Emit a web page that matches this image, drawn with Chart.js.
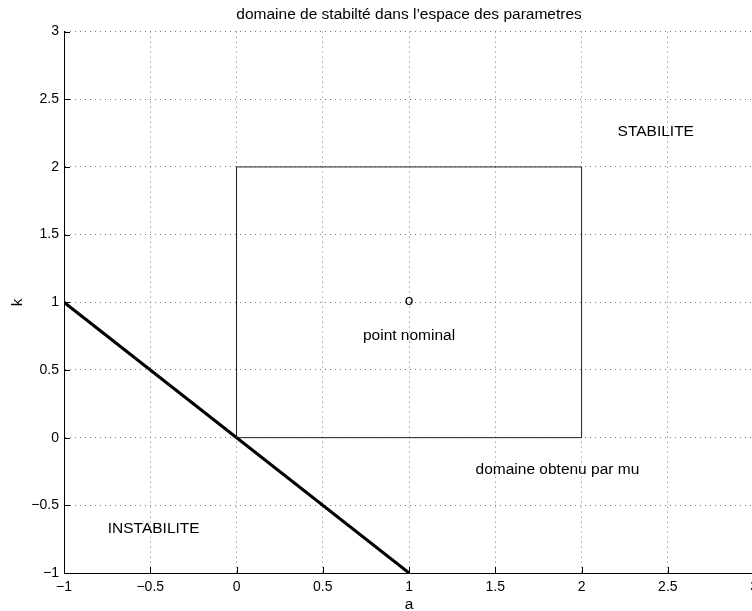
<!DOCTYPE html>
<html>
<head>
<meta charset="utf-8">
<script src="https://cdn.jsdelivr.net/npm/chart.js@4"></script>
<style>
  html, body { margin: 0; padding: 0; background: #fff; overflow: hidden; }
  canvas { display: block; }
</style>
</head>
<body>
<canvas id="myChart" width="764" height="614"></canvas>
<script>
// data of the plot
var boxX = [0, 2, 2, 0, 0];
var boxY = [0, 0, 2, 2, 0];
var limitX = [-1, 1];
var limitY = [1, -1];
var tickValues = [-1, -0.5, 0, 0.5, 1, 1.5, 2, 2.5, 3];

// text labels placed in data coordinates
var noteTexts = ["STABILITE", "o", "point nominal", "domaine obtenu par mu", "INSTABILITE"];
var noteX = [2.43, 1, 1, 1.86, -0.48];
var noteY = [2.26, 1.01, 0.75, -0.24, -0.67];

function toPoints(xs, ys) {
  return xs.map(function (x, i) { return { x: x, y: ys[i] }; });
}

function fmt(v) {
  return String(v).replace('-', '\u2212');
}

var FONT = "'Liberation Sans', Arial, Helvetica, sans-serif";

// draw the text notes and inward ticks like matlab
var extras = {
  id: 'extras',
  afterDatasetsDraw: function (chart) {
    var c = chart.ctx;
    var xs = chart.scales.x, ys = chart.scales.y;
    var area = chart.chartArea;
    c.save();
    c.strokeStyle = '#000';
    c.lineWidth = 1;
    c.beginPath();
    tickValues.forEach(function (v) {
      var px = Math.round(xs.getPixelForValue(v)) + 0.5;
      c.moveTo(px, area.bottom);
      c.lineTo(px, area.bottom - 6);
      var py = Math.round(ys.getPixelForValue(v)) + 0.5;
      c.moveTo(area.left, py);
      c.lineTo(area.left + 6, py);
    });
    c.stroke();

    c.fillStyle = '#000';
    c.font = '15.5px ' + FONT;
    c.textAlign = 'center';
    c.textBaseline = 'middle';
    noteTexts.forEach(function (t, i) {
      c.fillText(t, xs.getPixelForValue(noteX[i]), ys.getPixelForValue(noteY[i]));
    });
    c.restore();
  }
};

var ctx = document.getElementById('myChart').getContext('2d');

var myChart = new Chart(ctx, {
  type: 'scatter',
  data: {
    datasets: [{
      data: toPoints(boxX, boxY),
      showLine: true,
      borderColor: '#222',
      borderWidth: 1,
      pointRadius: 0,
      tension: 0
    }, {
      data: toPoints(limitX, limitY),
      showLine: true,
      borderColor: '#000',
      borderWidth: 3,
      pointRadius: 0,
      tension: 0
    }]
  },
  options: {
    responsive: false,
    animation: false,
    layout: { padding: 0 },
    plugins: {
      legend: { display: false },
      tooltip: { enabled: false },
      title: {
        display: true,
        fullSize: false,
        text: "domaine de stabilté dans l\u2019espace des parametres",
        color: '#000',
        font: { family: FONT, size: 15.5, weight: 'normal', lineHeight: 1.2 },
        padding: { top: 5, bottom: 8 }
      }
    },
    scales: {
      x: {
        type: 'linear',
        min: -1,
        max: 3,
        afterBuildTicks: function (s) {
          s.ticks = tickValues.map(function (v) { return { value: v }; });
        },
        afterFit: function (s) { s.height = 41; },
        ticks: {
          color: '#000',
          padding: 6,
          maxRotation: 0,
          font: { family: FONT, size: 14 },
          callback: function (v) { return fmt(v); }
        },
        grid: {
          color: '#777',
          lineWidth: 1,
          drawTicks: false
        },
        border: { display: true, color: '#000', width: 1, dash: [1, 4] },
        title: {
          display: true,
          text: 'a',
          color: '#000',
          font: { family: FONT, size: 15.5 },
          padding: { top: 0, bottom: 0 }
        }
      },
      y: {
        type: 'linear',
        min: -1,
        max: 3,
        afterBuildTicks: function (s) {
          s.ticks = tickValues.map(function (v) { return { value: v }; });
        },
        afterFit: function (s) { s.width = 64; },
        ticks: {
          color: '#000',
          padding: 5,
          font: { family: FONT, size: 14 },
          callback: function (v) { return fmt(v); }
        },
        grid: {
          color: '#777',
          lineWidth: 1,
          drawTicks: false
        },
        border: { display: true, color: '#000', width: 1, dash: [1, 4] },
        title: {
          display: true,
          text: 'k',
          color: '#000',
          font: { family: FONT, size: 15.5 },
          padding: { top: 8, bottom: 0 }
        }
      }
    }
  },
  plugins: [extras]
});
</script>
</body>
</html>
